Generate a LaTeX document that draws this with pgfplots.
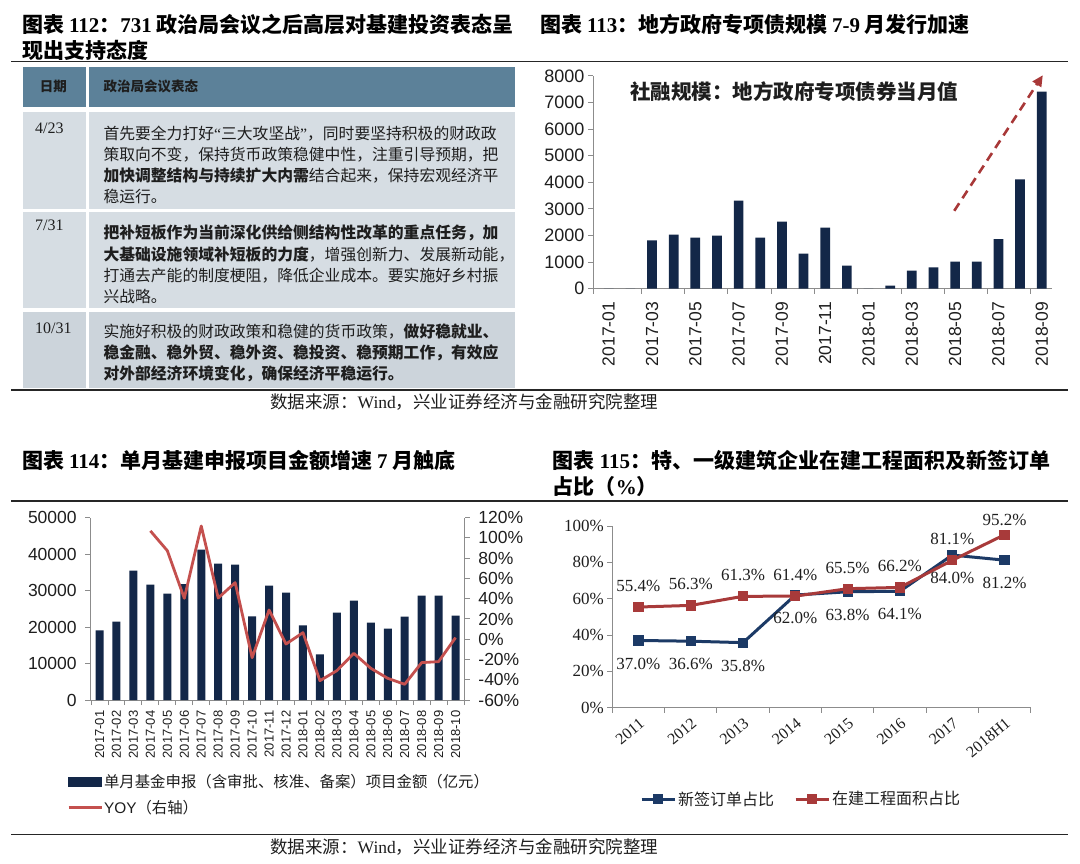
\documentclass[border=0pt]{standalone}
\usepackage{fontspec}
\setmainfont{Liberation Serif}
\setsansfont{Liberation Sans}
\newfontfamily\cjk{Noto Sans CJK SC}
\usepackage{pgfplots}
\pgfplotsset{compat=1.18}
\usetikzlibrary{arrows.meta}
\definecolor{navy}{RGB}{19,39,72}
\definecolor{hdr}{RGB}{92,129,153}
\definecolor{rowa}{RGB}{214,221,227}
\definecolor{rowb}{RGB}{204,212,219}
\definecolor{yoyred}{RGB}{196,80,78}
\definecolor{arrred}{RGB}{168,56,56}
\definecolor{lblue}{RGB}{28,58,102}
\definecolor{lred}{RGB}{168,58,58}
\definecolor{axgray}{RGB}{140,140,140}
\definecolor{txt}{RGB}{30,30,30}
\newcommand\fs[1]{\fontsize{#1}{#1}\selectfont}
\pgfplotsset{
  base/.style={scale only axis, anchor=south west, clip=false,
    axis line style={axgray, line width=1pt},
    tick align=outside, major tick length=5pt,
    tick style={axgray, line width=1pt},
    tick label style={text=txt},
    scaled y ticks=false,
    /pgf/number format/assume math mode=true,
    /pgf/number format/1000 sep={}},
}
\begin{document}
\begin{tikzpicture}[x=1pt,y=1pt]
\useasboundingbox (0,0) rectangle (1080,863);
% ---------- rules ----------
\draw[line width=1.2pt, black!85] (11,801.3) -- (1068,801.3);
\draw[line width=1.2pt, black!85] (11,473) -- (1068,473);
\draw[line width=1.2pt, black!85] (11,362) -- (1068,362);
\draw[line width=1.2pt, black!85] (11,28.7) -- (1068,28.7);
% ---------- titles ----------
\node[anchor=west, inner sep=0pt, text=black] at (22,838) {\cjk\bfseries\fs{21}图表 {\rmfamily 112}：{\rmfamily 731} 政治局会议之后高层对基建投资表态呈};
\node[anchor=west, inner sep=0pt, text=black] at (22,813) {\cjk\bfseries\fs{21}现出支持态度};
\node[anchor=west, inner sep=0pt, text=black] at (540,839) {\cjk\bfseries\fs{21}图表 {\rmfamily 113}：地方政府专项债规模 {\rmfamily 7-9} 月发行加速};
\node[anchor=west, inner sep=0pt, text=black] at (22,403) {\cjk\bfseries\fs{21}图表 {\rmfamily 114}：单月基建申报项目金额增速 {\rmfamily 7} 月触底};
\node[anchor=west, inner sep=0pt, text=black] at (552.7,403) {\cjk\bfseries\fs{21}图表 {\rmfamily 115}：特、一级建筑企业在建工程面积及新签订单};
\node[anchor=west, inner sep=0pt, text=black] at (552.7,376.3) {\cjk\bfseries\fs{21}占比（{\rmfamily\%}）};
% ---------- table ----------
\fill[hdr] (23,796.3) rectangle (86,756.3);
\fill[hdr] (89,796.3) rectangle (515,756.3);
\fill[rowa] (23,751.3) rectangle (86,654);
\fill[rowa] (89,751.3) rectangle (515,654);
\fill[rowa] (23,651.3) rectangle (86,554.7);
\fill[rowa] (89,651.3) rectangle (515,554.7);
\fill[rowb] (23,551.3) rectangle (86,474.7);
\fill[rowb] (89,551.3) rectangle (515,474.7);
\node[inner sep=0pt, text=txt] at (53.4,777) {\cjk\bfseries\fs{13.5}日期};
\node[anchor=west, inner sep=0pt, text=txt] at (103.3,777) {\cjk\bfseries\fs{13.5}政治局会议表态};
\node[anchor=west, inner sep=0pt, text=txt] at (35,734.7) {\rmfamily\fs{16}4/23};
\node[anchor=west, inner sep=0pt, text=txt] at (35,638) {\rmfamily\fs{16}7/31};
\node[anchor=west, inner sep=0pt, text=txt] at (35,534.7) {\rmfamily\fs{16}10/31};
\begin{scope}[every node/.style={anchor=west, inner sep=0pt, text=txt, font=\cjk\fs{15.8}}]
\node at (103.3,729.7) {首先要全力打好{\rmfamily “}三大攻坚战{\rmfamily ”}，同时要坚持积极的财政政};
\node at (103.3,708.5) {策取向不变，保持货币政策稳健中性，注重引导预期，把};
\node at (103.3,687.3) {{\bfseries 加快调整结构与持续扩大内需}结合起来，保持宏观经济平};
\node at (103.3,666.1) {稳运行。};
\node at (103.3,629.7) {\bfseries 把补短板作为当前深化供给侧结构性改革的重点任务，加};
\node at (103.3,608.5) {{\bfseries 大基础设施领域补短板的力度}，增强创新力、发展新动能，};
\node at (103.3,587.3) {打通去产能的制度梗阻，降低企业成本。要实施好乡村振};
\node at (103.3,566.1) {兴战略。};
\node at (103.3,531.3) {实施好积极的财政政策和稳健的货币政策，{\bfseries 做好稳就业、}};
\node at (103.3,510.1) {\bfseries 稳金融、稳外贸、稳外资、稳投资、稳预期工作，有效应};
\node at (103.3,488.9) {\bfseries 对外部经济环境变化，确保经济平稳运行。};
\end{scope}
% ---------- sources ----------
\node[anchor=west, inner sep=0pt, text=txt] at (270,461) {\cjk\fs{17.5}数据来源：{\rmfamily Wind}，兴业证券经济与金融研究院整理};
\node[anchor=west, inner sep=0pt, text=txt] at (270,16.3) {\cjk\fs{17.5}数据来源：{\rmfamily Wind}，兴业证券经济与金融研究院整理};
% ---------- chart 113 ----------
\begin{axis}[base,
  at={(593pt,574.3pt)}, width=458.7pt, height=212.7pt,
  xmin=-0.725, xmax=20.46, ymin=0, ymax=8000,
  axis x line*=bottom, axis y line*=left,
  ytick={0,1000,...,8000},
  yticklabel style={font=\sffamily\fs{18}},
  xtick={0,2,...,20},
  xticklabels={2017-01,2017-03,2017-05,2017-07,2017-09,2017-11,2018-01,2018-03,2018-05,2018-07,2018-09},
  xticklabel style={font=\sffamily\fs{17.5}, rotate=90, anchor=east, inner sep=1pt},
  xticklabel shift=7pt,
  xtick style={draw=none},
  extra x ticks={-0.725,1.5,3.5,5.5,7.5,9.5,11.5,13.5,15.5,17.5,19.5},
  extra x tick labels={},
  extra x tick style={xtick style={draw=axgray}},
]
\addplot[ybar, bar width=9.7pt, fill=navy, draw=none] coordinates {
(0,0) (1,0) (2,1820) (3,2035) (4,1920) (5,2000) (6,3317) (7,1920) (8,2525) (9,1320) (10,2300)
(11,867) (12,0) (13,113) (14,678) (15,804) (16,1017) (17,1017) (18,1860) (19,4108) (20,7412)};
\addplot[arrred, line width=2.6pt, dash pattern=on 9pt off 6pt, -{Triangle[length=11pt,width=10pt]}] coordinates {(15.96,2930) (20.05,8030)};
\end{axis}
\node[anchor=west, inner sep=0pt, text=txt] at (630,771.3) {\cjk\bfseries\fs{20.5}社融规模：地方政府专项债券当月值};
% ---------- chart 114 ----------
\begin{axis}[base,
  at={(90.2pt,163pt)}, width=374.7pt, height=182.3pt,
  xmin=-0.55, xmax=21.55, ymin=0, ymax=50000,
  axis x line*=bottom, axis y line*=left,
  ytick={0,10000,...,50000},
  yticklabel style={font=\sffamily\fs{17.5}},
  yticklabel shift=5pt,
  xtick={0,...,21},
  xticklabels={2017-01,2017-02,2017-03,2017-04,2017-05,2017-06,2017-07,2017-08,2017-09,2017-10,2017-11,2017-12,2018-01,2018-02,2018-03,2018-04,2018-05,2018-06,2018-07,2018-08,2018-09,2018-10},
  xticklabel style={font=\sffamily\fs{13}, rotate=90, anchor=east, inner sep=0.5pt},
  xticklabel shift=5pt,
  xtick style={draw=none},
  extra x ticks={-0.5,0.5,...,21.5},
  extra x tick labels={},
  extra x tick style={xtick style={draw=axgray}},
]
\addplot[ybar, bar width=8pt, fill=navy, draw=none] coordinates {
(0,19100) (1,21480) (2,35470) (3,31630) (4,29160) (5,31810) (6,41220) (7,37390) (8,37110) (9,22940) (10,31350)
(11,29430) (12,20480) (13,12520) (14,23950) (15,27240) (16,21210) (17,19560) (18,22850) (19,28610) (20,28610) (21,23130)};
\end{axis}
\begin{axis}[base,
  at={(90.2pt,163pt)}, width=374.7pt, height=182.3pt,
  xmin=-0.55, xmax=21.55, ymin=-60, ymax=120,
  axis x line=none, axis y line*=right,
  ytick={-60,-40,...,120},
  yticklabels={-60\%,-40\%,-20\%,0\%,20\%,40\%,60\%,80\%,100\%,120\%},
  yticklabel style={font=\sffamily\fs{17.5}},
  yticklabel shift=5pt,
  legend style={at={(axis description cs:-0.0619,-0.5176)}, anchor=west, draw=none, fill=none,
    inner sep=0pt, row sep=9pt, font=\cjk\fs{15.4}, text=txt,
    nodes={inner sep=1pt}},
  legend cell align=left,
]
\addplot[yoyred, line width=2.8pt, line join=round, forget plot] coordinates {
(3,107) (4,87.4) (5,40.4) (6,111.8) (7,40.7) (8,55.9) (9,-18.2) (10,28.9) (11,-4.7) (12,6.5)
(13,-40.9) (14,-31) (15,-13.9) (16,-28.7) (17,-38.6) (18,-44.5) (19,-23.1) (20,-22.1) (21,1.6)};
\addlegendimage{legend image code/.code={\fill[navy] (0pt,-4.5pt) rectangle (33pt,4.5pt);}}
\addlegendentry{单月基金申报（含审批、核准、备案）项目金额（亿元）}
\addlegendimage{legend image code/.code={\draw[yoyred, line width=2.8pt] (0pt,0pt) -- (33pt,0pt);}}
\addlegendentry{{\sffamily YOY}（右轴）}
\end{axis}
% ---------- chart 115 ----------
\begin{axis}[base,
  at={(612.3pt,155.3pt)}, width=418.4pt, height=181.7pt,
  xmin=-0.5, xmax=7.5, ymin=0, ymax=100,
  axis x line*=bottom, axis y line*=left,
  axis line style={axgray, line width=1.3pt},
  ytick={0,20,...,100},
  yticklabels={0\%,20\%,40\%,60\%,80\%,100\%},
  yticklabel style={font=\rmfamily\fs{17}},
  xtick={0,...,7},
  xticklabels={2011,2012,2013,2014,2015,2016,2017,2018H1},
  xticklabel style={font=\rmfamily\fs{16}, rotate=40, anchor=north east, inner sep=0pt},
  xticklabel shift=4pt,
  xtick style={draw=none},
  extra x ticks={-0.5,0.5,...,7.5},
  extra x tick labels={},
  extra x tick style={xtick style={draw=axgray}},
  legend columns=2,
  legend style={at={(axis description cs:0.0662,-0.5025)}, anchor=west, draw=none, fill=none,
    inner sep=0pt, font=\cjk\fs{16}, text=txt, nodes={inner sep=2pt},
    /tikz/every even column/.append style={column sep=18pt}},
  legend image code/.code={\draw[mark repeat=2, mark phase=2, #1] plot coordinates {(0pt,0pt) (16.5pt,0pt) (33pt,0pt)};},
]
\addplot[lblue, line width=3pt, mark=square*, mark size=3.6pt,
  point meta=y,
  nodes near coords={\pgfmathprintnumber[fixed,fixed zerofill,precision=1,assume math mode=true]{\pgfplotspointmeta}\%},
  every node near coord/.append style={anchor=center, yshift=-23pt, font=\rmfamily\fs{17}, text=txt}]
  table {
x y
0 37.0
1 36.6
2 35.8
3 62.0
4 63.8
5 64.1
6 84.0
7 81.2
};
\addlegendentry{新签订单占比}
\addplot[lred, line width=3pt, mark=square*, mark size=3.6pt,
  point meta=y,
  visualization depends on={value \thisrow{dy}\as\dy},
  nodes near coords={\pgfmathprintnumber[fixed,fixed zerofill,precision=1,assume math mode=true]{\pgfplotspointmeta}\%},
  every node near coord/.append style={anchor=center, yshift=\dy, font=\rmfamily\fs{17}, text=txt}]
  table {
x y dy
0 55.4 21
1 56.3 21
2 61.3 21
3 61.4 21
4 65.5 21
5 66.2 21
6 81.1 21
7 95.2 14.5
};
\addlegendentry{在建工程面积占比}
\end{axis}
\end{tikzpicture}
\end{document}
